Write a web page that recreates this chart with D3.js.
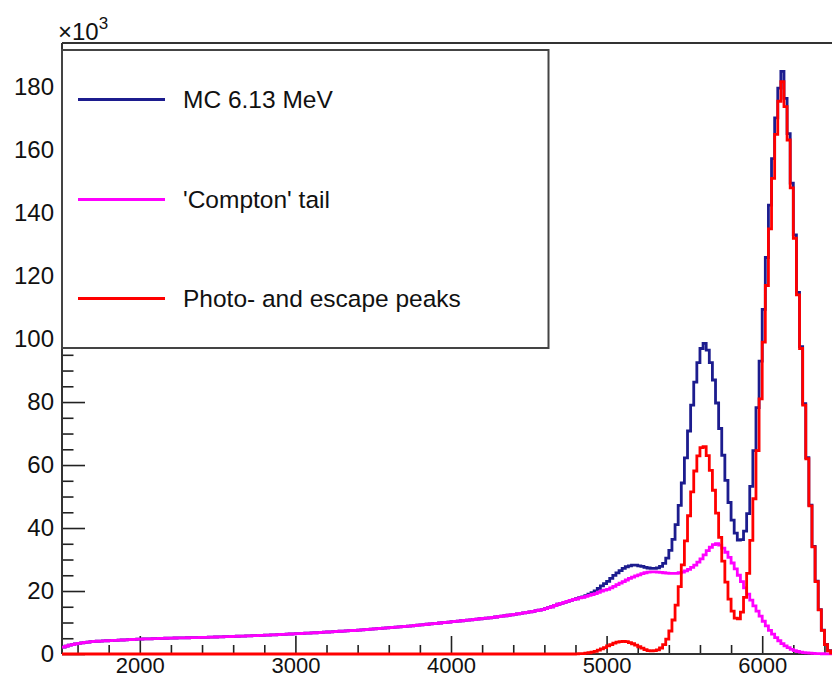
<!DOCTYPE html>
<html>
<head>
<meta charset="utf-8">
<script src="https://cdn.jsdelivr.net/npm/d3@7/dist/d3.min.js"></script>
<style>
  html, body { margin: 0; padding: 0; background: #fff; }
  svg { display: block; }
  text { font-family: "Liberation Sans", Arial, Helvetica, sans-serif; fill: #111; }
</style>
</head>
<body>
<svg id="chart" width="832" height="678"></svg>
<script>
// Energy spectrum, 20 keV bins starting at 1500 keV; counts in units of 10^3.
const binLow = 1500;
const binWidth = 20;

// Full Monte Carlo spectrum (6.13 MeV gamma line)
const mcTotal = [
  2.2, 2.5, 2.8, 3.0, 3.2, 3.4, 3.55, 3.7, 3.8, 3.9,
  4.0, 4.05, 4.1, 4.15, 4.2, 4.25, 4.3, 4.35, 4.4, 4.45,
  4.5, 4.55, 4.6, 4.65, 4.7, 4.75, 4.78, 4.8, 4.83, 4.86,
  4.9, 4.93, 4.96, 5.0, 5.03, 5.05, 5.08, 5.1, 5.12, 5.14,
  5.16, 5.18, 5.2, 5.22, 5.25, 5.28, 5.3, 5.33, 5.36, 5.4,
  5.43, 5.46, 5.5, 5.53, 5.56, 5.6, 5.63, 5.66, 5.7, 5.74,
  5.78, 5.82, 5.86, 5.9, 5.94, 5.98, 6.02, 6.06, 6.1, 6.15,
  6.2, 6.25, 6.3, 6.35, 6.4, 6.45, 6.5, 6.55, 6.6, 6.65,
  6.7, 6.75, 6.8, 6.86, 6.92, 6.98, 7.04, 7.1, 7.16, 7.22,
  7.28, 7.34, 7.4, 7.46, 7.52, 7.58, 7.64, 7.72, 7.8, 7.9,
  8.0, 8.07, 8.14, 8.21, 8.28, 8.35, 8.43, 8.52, 8.6, 8.7,
  8.78, 8.87, 8.96, 9.05, 9.15, 9.25, 9.35, 9.45, 9.55, 9.65,
  9.75, 9.85, 9.95, 10.05, 10.15, 10.25, 10.35, 10.45, 10.55, 10.65,
  10.75, 10.85, 10.95, 11.05, 11.2, 11.3, 11.4, 11.5, 11.65, 11.75,
  11.9, 12.0, 12.15, 12.3, 12.45, 12.6, 12.75, 12.9, 13.05, 13.2,
  13.4, 13.55, 13.75, 13.9, 14.1, 14.4, 14.7, 15.0, 15.4, 15.8,
  16.1, 16.4, 16.7, 17.0, 17.3, 17.55, 17.9, 18.15, 18.55, 19.0,
  19.5, 20.05, 20.8, 21.6, 22.35, 23.05, 24.0, 24.95, 25.75, 26.45,
  27.2, 27.7, 28.0, 28.2, 28.2, 28.0, 27.8, 27.5, 27.3, 27.2,
  27.2, 27.35, 27.8, 28.8, 30.45, 32.9, 36.4, 41.1, 47.2, 54.3,
  62.3, 70.8, 79.0, 86.3, 92.5, 97.0, 98.6, 96.5, 92.5, 87.0,
  79.7, 71.6, 63.1, 55.1, 48.1, 42.5, 38.4, 36.2, 36.3, 39.0,
  44.6, 53.2, 64.6, 78.2, 93.0, 109.4, 125.9, 142.5, 157.3, 170.2,
  179.7, 185.0, 176.4, 165.2, 149.5, 133.1, 114.8, 97.6, 79.45, 62.35,
  47.25, 34.2, 23.15, 14.1, 7.6, 3.05, 1.05, 0.3, 0.1, 0
];

// Continuum ("Compton" tail) component
const comptonTail = [
  2.2, 2.5, 2.8, 3.0, 3.2, 3.4, 3.55, 3.7, 3.8, 3.9,
  4.0, 4.05, 4.1, 4.15, 4.2, 4.25, 4.3, 4.35, 4.4, 4.45,
  4.5, 4.55, 4.6, 4.65, 4.7, 4.75, 4.78, 4.8, 4.83, 4.86,
  4.9, 4.93, 4.96, 5.0, 5.03, 5.05, 5.08, 5.1, 5.12, 5.14,
  5.16, 5.18, 5.2, 5.22, 5.25, 5.28, 5.3, 5.33, 5.36, 5.4,
  5.43, 5.46, 5.5, 5.53, 5.56, 5.6, 5.63, 5.66, 5.7, 5.74,
  5.78, 5.82, 5.86, 5.9, 5.94, 5.98, 6.02, 6.06, 6.1, 6.15,
  6.2, 6.25, 6.3, 6.35, 6.4, 6.45, 6.5, 6.55, 6.6, 6.65,
  6.7, 6.75, 6.8, 6.86, 6.92, 6.98, 7.04, 7.1, 7.16, 7.22,
  7.28, 7.34, 7.4, 7.46, 7.52, 7.58, 7.64, 7.72, 7.8, 7.9,
  8.0, 8.07, 8.14, 8.21, 8.28, 8.35, 8.43, 8.52, 8.6, 8.7,
  8.78, 8.87, 8.96, 9.05, 9.15, 9.25, 9.35, 9.45, 9.55, 9.65,
  9.75, 9.85, 9.95, 10.05, 10.15, 10.25, 10.35, 10.45, 10.55, 10.65,
  10.75, 10.85, 10.95, 11.05, 11.2, 11.3, 11.4, 11.5, 11.65, 11.75,
  11.9, 12.0, 12.15, 12.3, 12.45, 12.6, 12.75, 12.9, 13.05, 13.2,
  13.4, 13.55, 13.75, 13.9, 14.1, 14.4, 14.7, 15.0, 15.4, 15.8,
  16.1, 16.4, 16.7, 17.0, 17.3, 17.5, 17.8, 18.0, 18.3, 18.6,
  18.9, 19.2, 19.6, 20.0, 20.3, 20.5, 21.0, 21.5, 22.0, 22.5,
  23.0, 23.5, 24.0, 24.4, 24.8, 25.1, 25.5, 25.8, 26.0, 26.1,
  26.1, 26.0, 25.9, 25.8, 25.7, 25.6, 25.6, 25.6, 25.8, 26.0,
  26.4, 26.9, 27.5, 28.2, 29.2, 30.2, 31.5, 32.8, 33.9, 34.7,
  35.0, 34.6, 33.6, 32.3, 30.7, 28.9, 27.0, 25.0, 23.0, 21.0,
  19.0, 17.1, 15.3, 13.6, 12.0, 10.4, 8.9, 7.5, 6.3, 5.2,
  4.2, 3.3, 2.6, 2.0, 1.5, 1.1, 0.8, 0.6, 0.45, 0.35,
  0.25, 0.2, 0.15, 0.1, 0.08, 0.05, 0.03, 0.02, 0.01, 0
];

// Full-energy, single- and double-escape peaks
const photoEscape = [
  0, 0, 0, 0, 0, 0, 0, 0, 0, 0,
  0, 0, 0, 0, 0, 0, 0, 0, 0, 0,
  0, 0, 0, 0, 0, 0, 0, 0, 0, 0,
  0, 0, 0, 0, 0, 0, 0, 0, 0, 0,
  0, 0, 0, 0, 0, 0, 0, 0, 0, 0,
  0, 0, 0, 0, 0, 0, 0, 0, 0, 0,
  0, 0, 0, 0, 0, 0, 0, 0, 0, 0,
  0, 0, 0, 0, 0, 0, 0, 0, 0, 0,
  0, 0, 0, 0, 0, 0, 0, 0, 0, 0,
  0, 0, 0, 0, 0, 0, 0, 0, 0, 0,
  0, 0, 0, 0, 0, 0, 0, 0, 0, 0,
  0, 0, 0, 0, 0, 0, 0, 0, 0, 0,
  0, 0, 0, 0, 0, 0, 0, 0, 0, 0,
  0, 0, 0, 0, 0, 0, 0, 0, 0, 0,
  0, 0, 0, 0, 0, 0, 0, 0, 0, 0,
  0, 0, 0, 0, 0, 0, 0, 0, 0, 0,
  0, 0, 0, 0, 0, 0.05, 0.1, 0.15, 0.25, 0.4,
  0.6, 0.85, 1.2, 1.6, 2.05, 2.55, 3.0, 3.45, 3.75, 3.95,
  4.0, 3.9, 3.6, 3.25, 2.8, 2.3, 1.85, 1.4, 1.05, 1.0,
  1.05, 1.3, 1.9, 3.0, 4.75, 7.3, 10.8, 15.5, 21.4, 28.3,
  35.9, 43.9, 51.5, 58.1, 62.9, 65.5, 65.8, 63.0, 58.3, 52.0,
  44.7, 37.0, 29.5, 22.8, 17.4, 13.6, 11.4, 11.2, 13.3, 18.0,
  25.6, 36.1, 49.3, 64.6, 81.0, 99.0, 117.0, 135.0, 151.0, 165.0,
  175.5, 181.7, 173.8, 163.2, 148.0, 132.0, 114.0, 97.0, 79.0, 62.0,
  47.0, 34.0, 23.0, 14.0, 7.5, 3.0, 1.0, 0.3, 0.1, 0
];

const xMajorTicks = [2000, 3000, 4000, 5000, 6000];
const yMajorTicks = [0, 20, 40, 60, 80, 100, 120, 140, 160, 180];
const seriesNames = ["MC 6.13 MeV", "'Compton' tail", "Photo- and escape peaks"];
const seriesColors = ["#1c1c8e", "#ff00ff", "#ff0000"];

// ---- layout ----
const frame = { left: 62, top: 43, right: 840, bottom: 654 };
const svg = d3.select("#chart");

const x = d3.scaleLinear().domain([1500, 6500]).range([frame.left, frame.right]);
const y = d3.scaleLinear().domain([0, 194]).range([frame.bottom, frame.top]);

// minor ticks: every 200 keV on x, every 5k on y
const xMinorTicks = d3.range(1600, 6500, 200).filter(v => v % 1000 !== 0);
const yMinorTicks = d3.range(0, 194, 5).filter(v => v % 20 !== 0);

// ---- axes (ROOT style: ticks pointing into the frame) ----
const fmt = d3.format("d");
const gx = svg.append("g").attr("transform", `translate(0,${frame.bottom})`);
gx.call(d3.axisBottom(x).tickValues(xMajorTicks).tickSize(-18).tickSizeOuter(0)
  .tickPadding(3).tickFormat(fmt));
gx.append("g").call(d3.axisBottom(x).tickValues(xMinorTicks).tickSize(-9).tickSizeOuter(0).tickFormat(""));

const gy = svg.append("g").attr("transform", `translate(${frame.left},0)`);
gy.call(d3.axisLeft(y).tickValues(yMajorTicks).tickSize(-23).tickSizeOuter(0)
  .tickPadding(8).tickFormat(fmt));
gy.append("g").call(d3.axisLeft(y).tickValues(yMinorTicks).tickSize(-11.5).tickSizeOuter(0).tickFormat(""));

svg.selectAll(".domain").remove();
svg.selectAll(".tick line").attr("stroke", "#222").attr("stroke-width", 1.6);
svg.selectAll(".tick text")
  .style("font-size", "24px")
  .style("font-family", '"Liberation Sans", Arial, sans-serif')
  .attr("fill", "#111");
// x labels slightly smaller so they sit fully above the lower edge
gx.selectAll(".tick text").style("font-size", "22px");

// frame lines
svg.append("line").attr("x1", frame.left).attr("x2", frame.right)
  .attr("y1", frame.top).attr("y2", frame.top)
  .attr("stroke", "#333").attr("stroke-width", 2);
svg.append("line").attr("x1", frame.left).attr("x2", frame.left)
  .attr("y1", frame.top).attr("y2", frame.bottom)
  .attr("stroke", "#333").attr("stroke-width", 2);
svg.append("line").attr("x1", frame.left).attr("x2", frame.right)
  .attr("y1", frame.bottom).attr("y2", frame.bottom)
  .attr("stroke", "#333").attr("stroke-width", 2);

// exponent label for the y axis
const expo = svg.append("text").attr("x", 58).attr("y", 40).style("font-size", "24px");
expo.append("tspan").text("\u00d710");
expo.append("tspan").attr("dy", -11).style("font-size", "17px").text("3");

// ---- histograms drawn as step lines ----
svg.append("clipPath").attr("id", "plotClip")
  .append("rect").attr("x", frame.left).attr("y", frame.top - 2)
  .attr("width", frame.right - frame.left).attr("height", frame.bottom - frame.top + 6);

const step = d3.line()
  .x(d => x(d[0]))
  .y(d => y(d[1]))
  .curve(d3.curveStepAfter);

function histPoints(values) {
  const pts = values.map((v, i) => [binLow + i * binWidth, v]);
  pts.push([binLow + values.length * binWidth, values[values.length - 1]]);
  return pts;
}

const plot = svg.append("g").attr("clip-path", "url(#plotClip)");
[mcTotal, comptonTail, photoEscape].forEach((vals, i) => {
  plot.append("path")
    .attr("d", step(histPoints(vals)))
    .attr("fill", "none")
    .attr("stroke", seriesColors[i])
    .attr("stroke-width", 2.8)
    .attr("stroke-linejoin", "miter");
});

// ---- legend ----
const legend = svg.append("g");
legend.append("rect")
  .attr("x", 62).attr("y", 50).attr("width", 486.5).attr("height", 298)
  .attr("fill", "#fff").attr("stroke", "#444").attr("stroke-width", 2);

const legendRows = [99.5, 199.5, 298.5];
seriesNames.forEach((name, i) => {
  legend.append("line")
    .attr("x1", 78).attr("x2", 165)
    .attr("y1", legendRows[i]).attr("y2", legendRows[i])
    .attr("stroke", seriesColors[i]).attr("stroke-width", 3);
  legend.append("text")
    .attr("x", 183).attr("y", legendRows[i] + 8)
    .style("font-size", "24.5px")
    .text(name);
});
</script>
</body>
</html>
